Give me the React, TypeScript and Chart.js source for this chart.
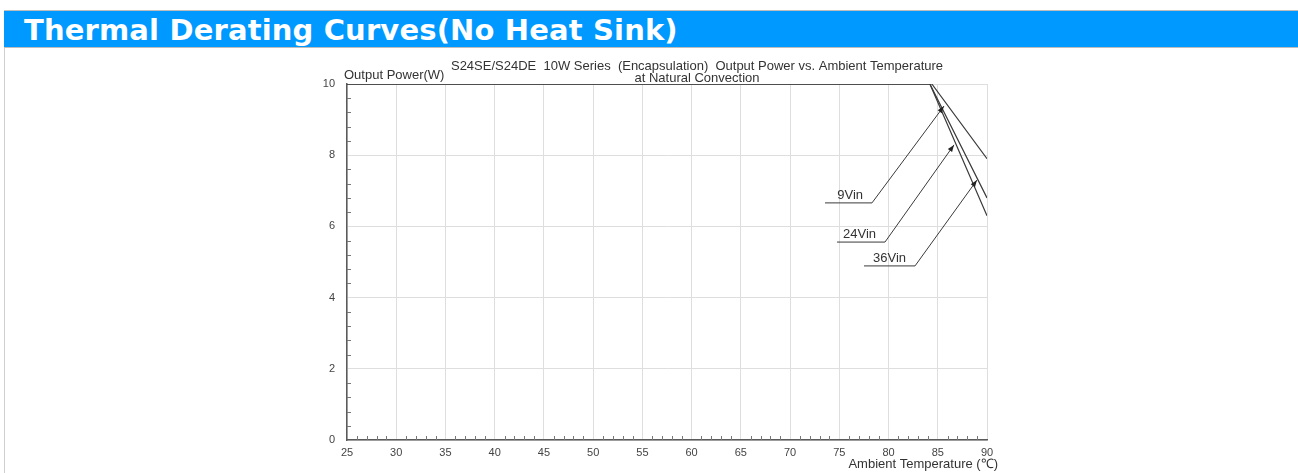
import React, { useEffect, useRef } from "react";
import { Chart, registerables } from "chart.js";

Chart.register(...registerables);

// ---- data ----
const seriesLabels = ["9Vin", "24Vin", "36Vin"];
const vin9Temp = [25, 84.4, 90];
const vin9Power = [10, 10, 7.9];
const vin24Temp = [25, 84.2, 90];
const vin24Power = [10, 10, 6.3];
const vin36Temp = [25, 84.2, 90];
const vin36Power = [10, 10, 6.8];
const xTickStep = 5;
const yTickStep = 2;
const xRange = [25, 90];
const yRange = [0, 10];

const chartTitle1 = "S24SE/S24DE  10W Series  (Encapsulation)  Output Power vs. Ambient Temperature";
const chartTitle2 = "at Natural Convection";
const yAxisTitle = "Output Power(W)";
const xAxisTitle = "Ambient Temperature (\u2103)";
const headerTitle = "Thermal Derating Curves(No Heat Sink)";

// label callouts (data coords): underline start/end temp, underline power, arrow tip temp/power
const calloutLineStart = [73.55, 74.77, 77.51];
const calloutLineEnd = [78.32, 79.64, 82.69];
const calloutLinePower = [6.66, 5.56, 4.89];
const calloutTipTemp = [85.63, 86.65, 88.98];
const calloutTipPower = [9.38, 8.29, 7.3];

const FONT = "'Liberation Sans', Arial, sans-serif";
const INK = "#3a3a3a";

const toPts = (xs: number[], ys: number[]) => xs.map((x, i) => ({ x, y: ys[i] }));

const decorPlugin = {
  id: "decor",
  afterDatasetsDraw(chart: any) {
    const { ctx, chartArea, scales } = chart;
    const xs = scales.x;
    const ys = scales.y;
    ctx.save();
    // minor ticks
    ctx.strokeStyle = "#777";
    ctx.lineWidth = 1;
    ctx.beginPath();
    for (let t = xRange[0] + 1; t < xRange[1]; t++) {
      if (t % xTickStep === 0) continue;
      const px = Math.round(xs.getPixelForValue(t)) + 0.5;
      ctx.moveTo(px, chartArea.bottom);
      ctx.lineTo(px, chartArea.bottom - 4);
    }
    for (let k = 1; k < 25; k++) {
      if (k % 5 === 0) continue;
      const v = k * 0.4;
      const py = Math.round(ys.getPixelForValue(v)) + 0.5;
      ctx.moveTo(chartArea.left, py);
      ctx.lineTo(chartArea.left + 4, py);
    }
    ctx.stroke();

    // callouts
    ctx.strokeStyle = INK;
    ctx.fillStyle = "#222";
    ctx.lineWidth = 1;
    ctx.font = `13px ${FONT}`;
    ctx.textAlign = "right";
    ctx.textBaseline = "alphabetic";
    seriesLabels.forEach((lab, i) => {
      const x0 = xs.getPixelForValue(calloutLineStart[i]);
      const x1 = xs.getPixelForValue(calloutLineEnd[i]);
      const y0 = ys.getPixelForValue(calloutLinePower[i]);
      const tx = xs.getPixelForValue(calloutTipTemp[i]);
      const ty = ys.getPixelForValue(calloutTipPower[i]);
      ctx.beginPath();
      ctx.moveTo(x0, y0);
      ctx.lineTo(x1, y0);
      ctx.lineTo(tx, ty);
      ctx.stroke();
      const ang = Math.atan2(ty - y0, tx - x1);
      const L = 7, W = 2.6;
      ctx.beginPath();
      ctx.moveTo(tx, ty);
      ctx.lineTo(tx - L * Math.cos(ang) + W * Math.sin(ang), ty - L * Math.sin(ang) - W * Math.cos(ang));
      ctx.lineTo(tx - L * Math.cos(ang) - W * Math.sin(ang), ty - L * Math.sin(ang) + W * Math.cos(ang));
      ctx.closePath();
      ctx.fill();
      ctx.fillStyle = "#333";
      ctx.fillText(lab, x1 - 9, y0 - 4);
      ctx.fillStyle = "#222";
    });

    // titles
    ctx.fillStyle = "#333";
    ctx.textBaseline = "middle";
    ctx.textAlign = "center";
    ctx.fillText(chartTitle1, chartArea.left + 350, chartArea.top - 18);
    ctx.fillText(chartTitle2, chartArea.left + 350, chartArea.top - 6);
    ctx.textAlign = "left";
    ctx.fillText(yAxisTitle, chartArea.left - 3, chartArea.top - 9);
    ctx.textAlign = "right";
    ctx.fillText(xAxisTitle, chartArea.right + 11, chartArea.bottom + 24);
    ctx.restore();
  },
};

export default function App() {
  const ref = useRef<HTMLCanvasElement | null>(null);
  useEffect(() => {
    if (!ref.current) return;
    const mk = (label: string, xs: number[], ys: number[]) => ({
      label,
      data: toPts(xs, ys),
      borderColor: INK,
      borderWidth: 1.2,
      pointRadius: 0,
      showLine: true,
      fill: false,
      tension: 0,
    });
    const chart = new Chart(ref.current, {
      type: "scatter",
      data: {
        datasets: [
          mk(seriesLabels[0], vin9Temp, vin9Power),
          mk(seriesLabels[1], vin24Temp, vin24Power),
          mk(seriesLabels[2], vin36Temp, vin36Power),
        ],
      },
      options: {
        animation: false,
        responsive: false,
        devicePixelRatio: 1,
        layout: { padding: { left: 317, right: 311, top: 34, bottom: 0 } },
        plugins: { legend: { display: false }, tooltip: { enabled: false }, title: { display: false } },
        scales: {
          x: {
            type: "linear",
            min: xRange[0],
            max: xRange[1],
            ticks: { stepSize: xTickStep, font: { family: FONT, size: 11 }, color: "#444", padding: 6, maxRotation: 0 },
            grid: { color: "#dedede", lineWidth: 1, drawTicks: false },
            border: { color: "#5a5a5a", width: 1.5 },
            afterFit: (s: any) => { s.height = 33; },
          },
          y: {
            type: "linear",
            min: yRange[0],
            max: yRange[1],
            ticks: { stepSize: yTickStep, font: { family: FONT, size: 11 }, color: "#444", padding: 12 },
            grid: { color: "#dedede", lineWidth: 1, drawTicks: false },
            border: { color: "#5a5a5a", width: 1.5 },
            afterFit: (s: any) => { s.width = 30; },
          },
        },
      } as any,
      plugins: [decorPlugin],
    });
    return () => chart.destroy();
  }, []);

  return (
    <div style={{ position: "absolute", left: 0, top: 0, width: 1298, height: 473, overflow: "hidden", background: "#fff" }}>
      <div
        style={{
          position: "absolute",
          left: 4,
          top: 10,
          width: 1294,
          height: 36,
          background: "#0099ff",
          borderTop: "1px solid #bdbdbd",
          borderBottom: "1px solid #bdbdbd",
          color: "#fff",
          fontFamily: "Verdana, 'DejaVu Sans', sans-serif",
          fontWeight: "bold",
          fontSize: 29,
          letterSpacing: 0.15,
          lineHeight: "38px",
          paddingLeft: 20,
          boxSizing: "content-box",
          whiteSpace: "nowrap",
        }}
      >
        {headerTitle}
      </div>
      <div style={{ position: "absolute", left: 4, top: 48, width: 0, height: 425, borderLeft: "1px solid #cfcfcf" }} />
      <canvas ref={ref} width={1298} height={423} style={{ position: "absolute", left: 0, top: 50, width: 1298, height: 423 }} />
    </div>
  );
}
